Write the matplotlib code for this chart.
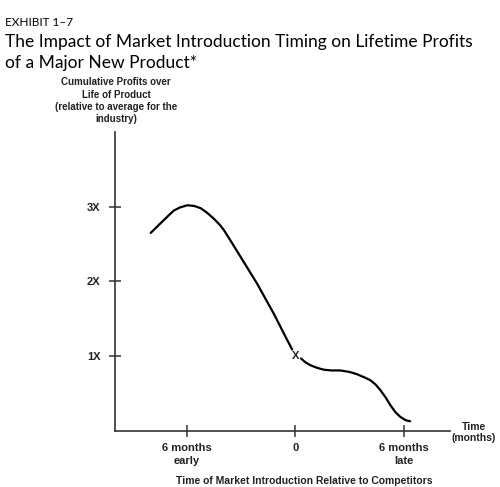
import matplotlib
matplotlib.use("Agg")
import matplotlib.pyplot as plt

# curve (months relative to competitors, profits in multiples of average)
early_months = [-8.02, -7.47, -7.0, -6.73, -6.4, -5.99, -5.6, -5.25, -4.9, -4.52, -4.2,
                -3.97, -3.5, -3.04, -2.12, -1.20, -0.46, -0.18]
early_profit = [2.65, 2.78, 2.89, 2.95, 2.99, 3.02, 3.01, 2.98, 2.92, 2.84, 2.76,
                2.69, 2.51, 2.33, 1.97, 1.57, 1.22, 1.09]
late_months = [0.31, 0.55, 0.83, 1.2, 1.57, 2.0, 2.49, 3.0, 3.41, 3.8, 4.15, 4.45,
               4.70, 5.0, 5.25, 5.55, 5.81, 6.1, 6.36]
late_profit = [0.97, 0.92, 0.88, 0.845, 0.82, 0.81, 0.81, 0.79, 0.76, 0.72, 0.68, 0.62,
               0.55, 0.45, 0.35, 0.25, 0.19, 0.145, 0.13]
on_time = (0, 1)

x_ticks = [-6, 0, 6]
x_labels = ["6 months\nearly", "0", "6 months\nlate"]
y_ticks = [1, 2, 3]
y_labels = ["1X", "2X", "3X"]

lab_font = "Liberation Sans"
title_font = "Lato"

fig = plt.figure(figsize=(5, 4.87), dpi=100)
ax = fig.add_axes([0.23, 0.115, 0.67, 0.614])

ax.plot(early_months, early_profit, color="black", lw=1.6, solid_capstyle="round",
        solid_joinstyle="round")
ax.plot(late_months, late_profit, color="black", lw=1.6, solid_capstyle="round",
        solid_joinstyle="round")
ax.text(on_time[0], on_time[1], "X", ha="center", va="center", fontsize=8,
        family=lab_font, fontweight="bold", color="#222222")

ax.set_xlim(-10, 8.57)
ax.set_ylim(0, 4.0)
for s in ["top", "right"]:
    ax.spines[s].set_visible(False)
for s in ["left", "bottom"]:
    ax.spines[s].set_color("#333333")
    ax.spines[s].set_linewidth(1.2)

ax.set_xticks(x_ticks)
ax.set_xticklabels(x_labels, family=lab_font, fontsize=8, fontweight="bold",
                   color="#222222", linespacing=1.35)
ax.set_yticks(y_ticks)
ax.set_yticklabels(y_labels, family=lab_font, fontsize=8, fontweight="bold", color="#222222")
ax.tick_params(direction="inout", length=9, width=1.1, color="#333333", pad=6)
ax.tick_params(axis="x", pad=4.5)

fig.text(0.01, 0.966, "EXHIBIT 1–7", family=title_font, fontsize=8.5, va="top")
fig.text(0.01, 0.930, "The Impact of Market Introduction Timing on Lifetime Profits\n"
         "of a Major New Product*", family=title_font, fontsize=12.5, va="top",
         linespacing=1.35)
fig.text(0.232, 0.793, "Cumulative Profits over\nLife of Product\n"
         "(relative to average for the\nindustry)", ha="center", va="center",
         family=lab_font, fontsize=7, fontweight="bold", linespacing=1.3, color="#222222")
fig.text(0.948, 0.112, "Time\n(months)", ha="center", va="center", family=lab_font,
         fontsize=7.5, fontweight="bold", linespacing=1.2, color="#222222")
fig.text(0.608, 0.013, "Time of Market Introduction Relative to Competitors", ha="center",
         va="center", family=lab_font, fontsize=7.5, fontweight="bold", color="#222222")

fig.savefig("out.png", dpi=100)
